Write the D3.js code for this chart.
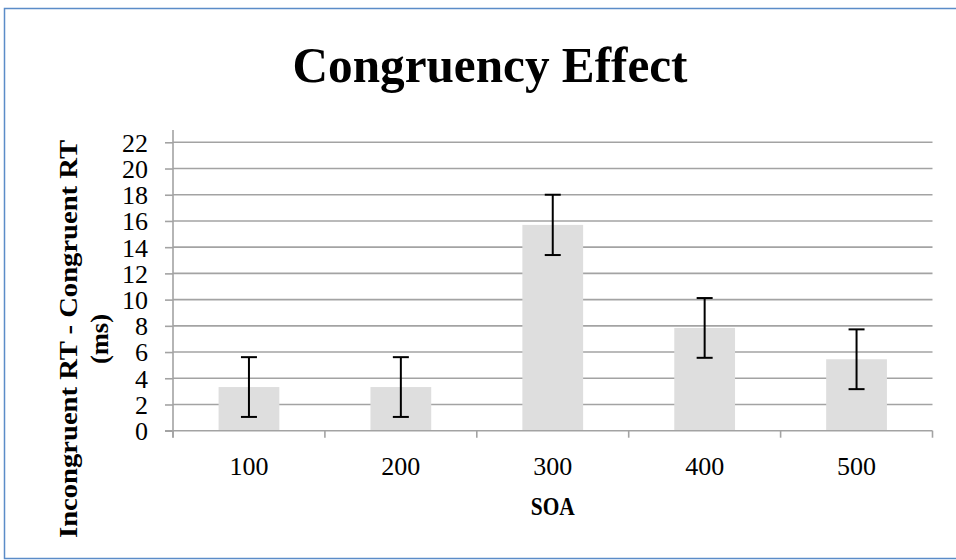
<!DOCTYPE html>
<html><head><meta charset="utf-8">
<script src="https://cdn.jsdelivr.net/npm/d3@7"></script>
<style>body{margin:0;background:#fff}svg{display:block}</style>
</head><body>
<svg id="c" width="956" height="560"></svg>
<script>
const categories = ["100", "200", "300", "400", "500"];
const values = [3.33, 3.33, 15.7, 7.84, 5.45];
const errors = [2.28, 2.28, 2.3, 2.28, 2.28];
const yTicks = [0, 2, 4, 6, 8, 10, 12, 14, 16, 18, 20, 22];
const title = "Congruency Effect";
const xTitle = "SOA";
const yTitleLines = ["Incongruent RT - Congruent RT", "(ms)"];

(function () {
const svg = d3.select("#c");
const serif = "'Liberation Serif','DejaVu Serif',serif";
const pLeft = 173, pRight = 932.5, pTop = 130;
const x = d3.scaleBand().domain(categories).range([pLeft, pRight]).paddingInner(0.6).paddingOuter(0.3);
const y = d3.scaleLinear().domain([0, 22]).range([430.7, 142.3]);
const xb = d3.scaleBand().domain(categories).range([pLeft, pRight]);

// frame
svg.append("rect").attr("x", 4.5).attr("y", 8.5).attr("width", 960).attr("height", 550)
  .attr("fill", "none").attr("stroke", "#5b8cc8").attr("stroke-width", 1.5);

// gridlines
svg.append("g").selectAll("line").data(yTicks.filter(d => d > 0)).join("line")
  .attr("x1", pLeft).attr("x2", pRight).attr("y1", d => y(d)).attr("y2", d => y(d))
  .attr("stroke", "#a3a3a3").attr("stroke-width", 1.6);

// bars
svg.append("g").selectAll("rect").data(values).join("rect")
  .attr("x", (d, i) => x(categories[i])).attr("width", x.bandwidth())
  .attr("y", d => y(d)).attr("height", d => y(0) - y(d)).attr("fill", "#dedede");

// y axis
const yAxis = d3.axisLeft(y).tickValues(yTicks).tickSize(8).tickPadding(17);
const gy = svg.append("g").attr("transform", `translate(${pLeft},0)`).call(yAxis);
gy.select(".domain").remove();
gy.selectAll(".tick line").attr("stroke", "#a3a3a3").attr("stroke-width", 1.6);
gy.selectAll(".tick text").attr("font-family", serif).attr("font-size", 26).attr("fill", "#000").attr("dy", "0.34em");
svg.append("line").attr("x1", pLeft).attr("x2", pLeft).attr("y1", pTop).attr("y2", 437.5)
  .attr("stroke", "#a3a3a3").attr("stroke-width", 1.6);

// x axis
svg.append("line").attr("x1", pLeft - 8).attr("x2", pRight).attr("y1", y(0)).attr("y2", y(0))
  .attr("stroke", "#a3a3a3").attr("stroke-width", 1.6);
const bounds = categories.map(c => xb(c)).concat([pRight]);
svg.append("g").selectAll("line").data(bounds).join("line")
  .attr("x1", d => d).attr("x2", d => d).attr("y1", y(0)).attr("y2", y(0) + 7)
  .attr("stroke", "#a3a3a3").attr("stroke-width", 1.6);
svg.append("g").selectAll("text").data(categories).join("text")
  .attr("x", d => x(d) + x.bandwidth() / 2).attr("y", 475).attr("text-anchor", "middle")
  .attr("font-family", serif).attr("font-size", 26).attr("fill", "#000").text(d => d);

// error bars
const eb = svg.append("g").attr("stroke", "#000").attr("stroke-width", 2);
values.forEach((v, i) => {
  const cx = x(categories[i]) + x.bandwidth() / 2;
  const hi = y(v + errors[i]), lo = y(v - errors[i]);
  eb.append("line").attr("x1", cx).attr("x2", cx).attr("y1", hi).attr("y2", lo);
  eb.append("line").attr("x1", cx - 8).attr("x2", cx + 8).attr("y1", hi).attr("y2", hi);
  eb.append("line").attr("x1", cx - 8).attr("x2", cx + 8).attr("y1", lo).attr("y2", lo);
});

// titles
function fit(sel, w) {
  sel.attr("textLength", w).attr("lengthAdjust", "spacingAndGlyphs");
  return sel;
}
fit(svg.append("text").attr("x", 490).attr("y", 82).attr("text-anchor", "middle")
  .attr("font-family", serif).attr("font-weight", "bold").attr("font-size", 50).attr("fill", "#000").text(title), 395);
fit(svg.append("text").attr("x", (pLeft + pRight) / 2).attr("y", 515).attr("text-anchor", "middle")
  .attr("font-family", serif).attr("font-weight", "bold").attr("font-size", 25).attr("fill", "#000").text(xTitle), 44);
const yt = svg.append("g").attr("transform", "translate(77,339) rotate(-90)");
fit(yt.append("text").attr("x", 0).attr("y", 0).attr("text-anchor", "middle")
  .attr("font-family", serif).attr("font-weight", "bold").attr("font-size", 25).attr("fill", "#000").text(yTitleLines[0]), 398);
fit(yt.append("text").attr("x", 0).attr("y", 31).attr("text-anchor", "middle")
  .attr("font-family", serif).attr("font-weight", "bold").attr("font-size", 25).attr("fill", "#000").text(yTitleLines[1]), 50);
})();
</script>
</body></html>
